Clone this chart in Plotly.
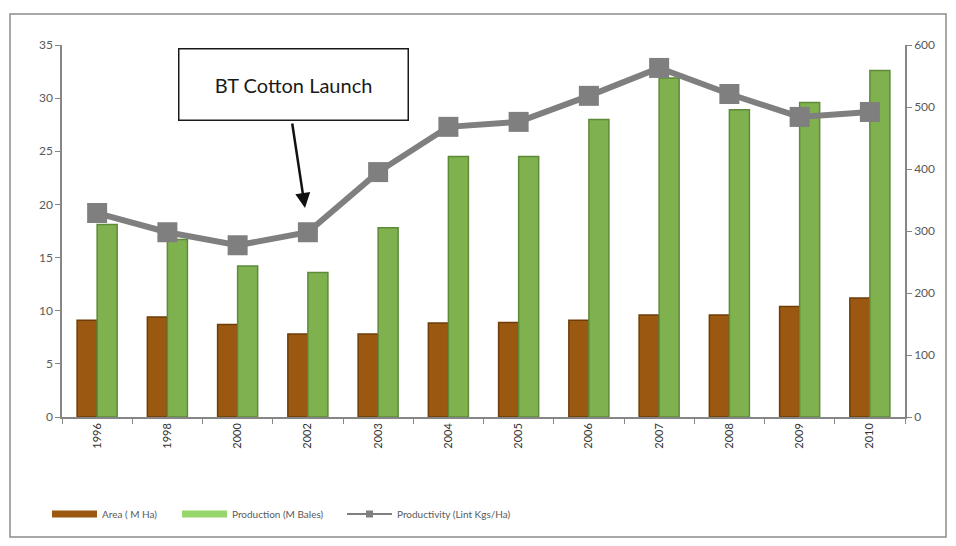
import plotly.graph_objects as go

years = ["1996", "1998", "2000", "2002", "2003", "2004", "2005", "2006", "2007", "2008", "2009", "2010"]
area = [9.1, 9.4, 8.7, 7.8, 7.8, 8.85, 8.9, 9.1, 9.6, 9.6, 10.4, 11.2]
production = [18.1, 16.7, 14.2, 13.6, 17.8, 24.5, 24.5, 28.0, 31.9, 28.9, 29.6, 32.6]
productivity = [329, 298, 277, 298, 395, 468, 476, 518, 563, 521, 484, 492]

L, R, T, B = 62, 51, 45, 129
W, H = 956, 546
PW, PH = W - L - R, H - T - B

def px(x):
    return (x - L) / PW

def py(y):
    return (H - B - y) / PH

BROWN, BROWN_EDGE = "#9a5810", "#6e3d08"
GREEN, GREEN_EDGE = "#7fb24e", "#5f8a3a"
GREY = "#7f7f7f"

fig = go.Figure()
fig.add_trace(go.Bar(x=years, y=area, name="Area ( M Ha)", showlegend=False,
                     marker=dict(color=BROWN, line=dict(color=BROWN_EDGE, width=1.5))))
fig.add_trace(go.Bar(x=years, y=production, name="Production (M Bales)", showlegend=False,
                     marker=dict(color=GREEN, line=dict(color=GREEN_EDGE, width=1.5))))
fig.add_trace(go.Scatter(x=years, y=productivity, name="Productivity (Lint Kgs/Ha)",
                         yaxis="y2", mode="lines+markers", showlegend=False,
                         line=dict(color=GREY, width=6),
                         marker=dict(symbol="square", size=20, color=GREY)))

# legend-only entries (styled like the reference legend keys)
fig.add_trace(go.Scatter(x=[None], y=[None], mode="lines", name="Area ( M Ha)", legend="legend",
                         line=dict(color=BROWN, width=7)))
fig.add_trace(go.Scatter(x=[None], y=[None], mode="lines", name="Production (M Bales)", legend="legend2",
                         line=dict(color="#96d66a", width=7)))
fig.add_trace(go.Scatter(x=[None], y=[None], mode="lines+markers", name="Productivity (Lint Kgs/Ha)",
                         legend="legend3", line=dict(color="#555555", width=1.5),
                         marker=dict(symbol="square", size=7, color=GREY)))

fam = "Lato, Liberation Sans, sans-serif"
axis_font = dict(family=fam, size=12, color="#595959")
leg_font = dict(family=fam, size=10, color="#595959")

def leg(xpix):
    return dict(orientation="h", x=px(xpix), y=py(514), xanchor="left", yanchor="middle",
                font=leg_font, itemwidth=45, bgcolor="rgba(0,0,0,0)")

fig.update_layout(
    width=W, height=H,
    margin=dict(l=L, r=R, t=T, b=B),
    paper_bgcolor="white", plot_bgcolor="white",
    barmode="group", bargap=0.43, bargroupgap=0.0,
    font=dict(family=fam),
    xaxis=dict(type="category", range=[-0.5, 11.5], autorange=False, tickangle=-90,
               ticks="outside", ticklen=5,
               tickson="boundaries", showline=True, linecolor="#868686", linewidth=1.5,
               tickcolor="#868686", tickfont=dict(family=fam, size=11, color="#333333"),
               showgrid=False),
    yaxis=dict(range=[0, 35], dtick=5, ticks="outside", ticklen=5, showline=True,
               linecolor="#868686", linewidth=1.5, tickcolor="#868686",
               showgrid=False, zeroline=False, tickfont=axis_font),
    yaxis2=dict(range=[0, 600], dtick=100, overlaying="y", side="right", ticks="outside",
                ticklen=5, showline=True, linecolor="#868686", linewidth=1.5,
                tickcolor="#868686", showgrid=False, zeroline=False, tickfont=axis_font),
    legend=leg(102 - 55),
    legend2=leg(232 - 55),
    legend3=leg(397 - 55),
    showlegend=True,
)

# outer border
fig.add_shape(type="rect", xref="paper", yref="paper",
              x0=px(10), x1=px(946), y0=py(537), y1=py(14),
              line=dict(color="#8c8c8c", width=1.5), fillcolor="rgba(0,0,0,0)", layer="below")

# annotation box
fig.add_annotation(xref="paper", yref="paper", x=px(293), y=py(84),
                   text="BT Cotton Launch", showarrow=False,
                   font=dict(family=fam, size=20, color="#1a1a1a"),
                   width=226, height=68, bgcolor="white", bordercolor="#1a1a1a", borderwidth=1.5,
                   xanchor="center", yanchor="middle")
# arrow
fig.add_annotation(xref="paper", yref="paper", x=px(305), y=py(208),
                   ax=292 - 305, ay=122 - 208, text="", showarrow=True,
                   arrowhead=2, arrowsize=1.2, arrowwidth=2.5, arrowcolor="#111111")

fig.write_html("out.html")
